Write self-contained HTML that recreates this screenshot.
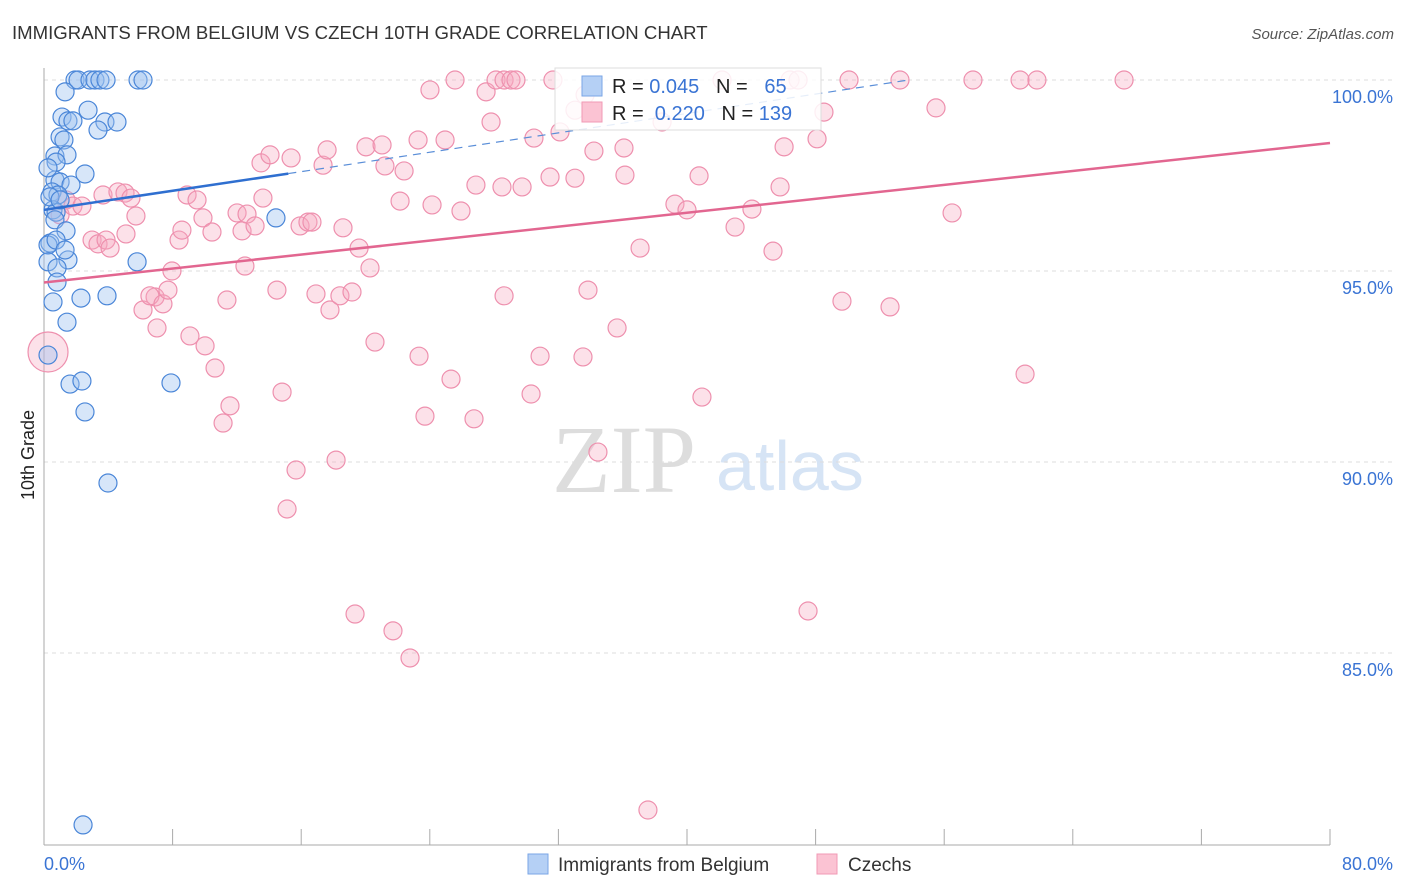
<!DOCTYPE html>
<html><head><meta charset="utf-8"><style>
body{margin:0;background:#fff;font-family:"Liberation Sans",sans-serif;}
#wrap{position:relative;width:1406px;height:892px;overflow:hidden;}
</style></head><body>
<div id="wrap">
<svg id="svg" width="1406" height="892" xmlns="http://www.w3.org/2000/svg">
<text x="12" y="39" font-size="18.6" fill="#333">IMMIGRANTS FROM BELGIUM VS CZECH 10TH GRADE CORRELATION CHART</text>
<text x="1394" y="39" font-size="15" fill="#555" text-anchor="end" font-style="italic">Source: ZipAtlas.com</text>
<text x="34" y="455" font-size="18" fill="#222" transform="rotate(-90 34 455)" text-anchor="middle">10th Grade</text>
<text x="552" y="492" font-size="96" fill="#ddd" font-family="Liberation Serif,serif">ZIP</text>
<text x="716" y="490" font-size="70" fill="#d6e4f5">atlas</text>
<g id="grid"></g><g id="pts"></g><g id="lines"></g>
<g id="stats">
<rect x="555" y="68" width="266" height="62" fill="#fff" fill-opacity="0.85" stroke="#ddd"/>
<rect x="582" y="76" width="20" height="20" fill="#b5d0f5" stroke="#7aa6e6"/>
<rect x="582" y="102" width="20" height="20" fill="#fbc3d3" stroke="#f09ab4"/>
<text x="612" y="93" font-size="20" fill="#222" xml:space="preserve">R = <tspan fill="#3a74d4">0.045</tspan>   N =   <tspan fill="#3a74d4">65</tspan></text>
<text x="612" y="120" font-size="20" fill="#222" xml:space="preserve">R =  <tspan fill="#3a74d4">0.220</tspan>   N = <tspan fill="#3a74d4">139</tspan></text>
</g>
<g>
<rect x="528" y="854" width="20" height="20" fill="#b5d0f5" stroke="#7aa6e6"/>
<text x="558" y="871" font-size="19" fill="#333">Immigrants from Belgium</text>
<rect x="817" y="854" width="20" height="20" fill="#fbc3d3" stroke="#f09ab4"/>
<text x="848" y="871" font-size="19" fill="#333">Czechs</text>
</g>
</svg></div>
<script>
const yTicks=[100,95,90,85];
const xTickLabels=["0.0%","80.0%"];
const blueX=[1.93,2.12,2.86,3.17,3.48,3.86,5.85,6.16,1.31,2.74,1.12,1.49,1.80,3.79,4.54,3.36,1.0,1.24,0.68,1.43,0.75,2.55,0.68,1.0,1.68,0.5,0.87,0.56,0.75,0.68,1.37,0.37,0.25,0.75,1.49,0.25,0.81,5.79,0.81,0.56,2.30,3.92,1.43,0.25,1.62,2.36,7.90,2.55,3.98,14.43,2.43,0.25,0.37,1.0,1.31];
const blueY=[100,100,100,100,100,100,100,100,99.69,99.21,99.03,98.93,98.93,98.90,98.90,98.69,98.51,98.43,98.01,98.04,97.85,97.54,97.38,97.33,97.25,97.07,96.99,96.60,96.54,96.34,96.05,95.73,95.68,95.81,95.29,95.24,95.08,95.24,94.71,94.19,94.29,94.35,93.66,92.80,92.04,92.12,92.07,91.31,89.45,96.39,80.50,97.70,96.94,96.86,95.55];
const pinkX=[0.25,1.0,1.37,1.80,2.36,2.99,3.36,3.86,4.11,3.67,4.60,5.04,5.41,5.72,5.10,6.91,6.16,6.59,7.40,7.71,7.03,7.96,8.40,8.58,8.90,9.52,9.89,10.45,9.08,10.02,10.64,11.57,11.14,11.38,12.01,12.32,12.63,13.13,13.62,12.50,13.50,14.06,15.37,14.49,14.81,15.68,15.12,15.93,16.42,16.67,16.92,17.79,18.41,18.60,19.16,17.36,17.61,19.60,20.28,20.59,18.17,19.35,21.71,22.77,20.03,21.03,21.21,22.40,22.15,23.27,24.95,24.01,25.57,23.33,23.70,25.32,26.75,24.14,25.94,26.87,27.50,27.81,28.12,28.62,29.05,29.36,28.49,29.74,28.62,30.30,30.86,30.48,31.48,31.66,32.10,33.03,33.84,33.53,34.46,35.65,34.21,36.08,37.08,38.45,37.57,39.25,40.0,40.75,40.93,42.18,42.99,44.04,45.35,45.79,46.04,46.41,46.91,47.53,48.09,48.52,50.08,49.64,52.63,53.25,55.49,56.49,57.79,60.72,61.03,61.77,67.19,33.66,33.03,36.14];
const pinkY=[92.88,96.47,96.86,96.70,96.70,95.81,95.71,95.81,95.60,96.99,97.07,97.04,96.91,96.44,95.97,94.32,93.98,94.35,94.14,94.50,93.51,95.0,95.81,96.07,96.99,96.86,96.39,96.02,93.30,93.04,92.46,91.47,91.02,94.24,96.52,96.05,96.49,96.18,96.91,95.13,97.83,98.04,97.96,94.50,91.83,89.79,88.77,96.18,96.28,96.28,94.40,93.98,94.35,96.13,94.45,97.77,98.17,95.60,95.08,93.14,90.05,86.02,85.58,84.87,98.25,98.30,97.75,97.62,96.83,98.43,98.43,99.74,100,92.77,91.20,92.17,91.13,96.73,96.57,97.25,99.69,98.90,100,100,100,100,97.20,97.20,94.35,91.78,92.77,98.48,97.46,100,98.64,97.43,94.50,92.75,90.26,93.51,98.14,98.22,95.60,98.90,80.89,96.75,96.60,97.49,91.70,100,96.15,96.62,95.52,97.20,98.25,100,100,86.10,98.46,99.16,100,94.21,94.06,100,99.27,96.52,100,100,92.30,100,100,99.61,99.21,97.51];
const X0=44,X1=1330,Y100=80,PX5=191;
const sx=v=>X0+(v/80)*(X1-X0);
const sy=v=>Y100+(100-v)/5*PX5;
const NS="http://www.w3.org/2000/svg";
function mk(tag,attrs,parent){const e=document.createElementNS(NS,tag);for(const k in attrs)e.setAttribute(k,attrs[k]);parent.appendChild(e);return e;}
const svg=document.getElementById('svg'),grid=document.getElementById('grid'),pts=document.getElementById('pts'),lines=document.getElementById('lines');
yTicks.forEach(t=>{
 const l=mk('line',{x1:X0,x2:1392,y1:sy(t),y2:sy(t),stroke:'#ddd','stroke-dasharray':'4,4'},grid);
 
 
 const tx=mk('text',{x:1393,y:sy(t)+23,'font-size':18,fill:'#3a74d4','text-anchor':'end'},grid);
 tx.textContent=t.toFixed(1)+'%';
 
 
});
const ax=mk('line',{x1:X0,x2:X0,y1:68,y2:845,stroke:'#aaa'},grid);


const bx=mk('line',{x1:X0,x2:X1,y1:845,y2:845,stroke:'#aaa'},grid);


for(let i=0;i<=10;i++){const v=i*8;const t=mk('line',{x1:sx(v),x2:sx(v),y1:829,y2:845,stroke:'#aaa'},grid);
 
 }
[[0,xTickLabels[0],'start'],[80,xTickLabels[1],'end']].forEach(([v,s,a])=>{const t=mk('text',{x:sx(v)+(a=='end'?63:0),y:870,'font-size':18,fill:'#3a74d4','text-anchor':a},grid);t.textContent=s;
 
 });
pinkX.forEach((x,i)=>{const c=mk('circle',{cx:sx(x),cy:sy(pinkY[i]),r:i==0?20:9,fill:'#f7a8c0','fill-opacity':0.35,stroke:'#ee90ae','stroke-width':1.2},pts);
 
 });
blueX.forEach((x,i)=>{const c=mk('circle',{cx:sx(x),cy:sy(blueY[i]),r:9,fill:'#9cc0f0','fill-opacity':0.4,stroke:'#4a86d8','stroke-width':1.2},pts);
 
 });
const bl=mk('line',{x1:sx(0),y1:sy(96.6),x2:sx(15.2),y2:sy(97.55),stroke:'#2f6fd0','stroke-width':2.5},lines);


const bd=mk('line',{x1:sx(15.2),y1:sy(97.55),x2:sx(53.8),y2:sy(100),stroke:'#5a8ed8','stroke-width':1.2,'stroke-dasharray':'8,6'},lines);


const pl=mk('line',{x1:sx(0),y1:sy(94.7),x2:sx(80),y2:sy(98.35),stroke:'#e26690','stroke-width':2.5},lines);


svg.appendChild(document.getElementById('stats'));
</script>
</body></html>
